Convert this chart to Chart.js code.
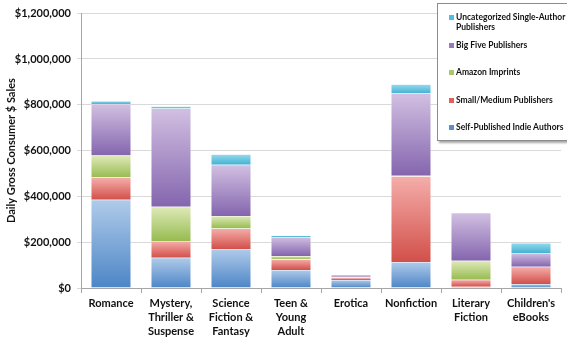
<!DOCTYPE html>
<html>
<head>
<meta charset="utf-8">
<script src="https://cdn.jsdelivr.net/npm/chart.js@4/dist/chart.umd.min.js"></script>
<style>
  html, body { margin: 0; padding: 0; background: #fff; }
  #wrap { position: relative; width: 567px; height: 341px; }
  #legenda {
    position: absolute; left: 437px; top: 3px; width: 135px; height: 136px;
    background: #fff; border: 1px solid #8c8c8c;
    box-shadow: 2px 2px 2px rgba(0,0,0,0.35);
    font-family: Lato, "Liberation Sans", sans-serif; font-weight: bold; font-size: 8.5px;
    color: #111;
  }
  .item { position: absolute; left: 11px; width: 124px; line-height: 9.5px; }
  .item span.m { position: absolute; left: 0; top: 2px; width: 5px; height: 5px; }
  .item span.t { display: block; margin-left: 7px; }
</style>
</head>
<body>
<div id="wrap">
  <canvas id="grafico" width="567" height="341"></canvas>
  <div id="legenda"></div>
</div>
<script>
const categorias = [
  "Romance",
  ["Mystery,", "Thriller &", "Suspense"],
  ["Science", "Fiction &", "Fantasy"],
  ["Teen &", "Young", "Adult"],
  "Erotica",
  "Nonfiction",
  ["Literary", "Fiction"],
  ["Children's", "eBooks"]
];

// valores em dólares por dia
const indie = [385000, 132000, 170000, 79000, 35000, 113000, 6000, 17000];
const pequenas = [97000, 73000, 90000, 46000, 10000, 375000, 30000, 76000];
const amazon = [96000, 150000, 54000, 15000, 2000, 2000, 83000, 0];
const bigFive = [225000, 429000, 224000, 83000, 7000, 359000, 209000, 60000];
const semCategoria = [13000, 9000, 46000, 6000, 5000, 41000, 0, 44000];

const yTicks = [0, 200000, 400000, 600000, 800000, 1000000, 1200000];

function preenchimento(claro, escuro) {
    return ctx => {
        const chart = ctx.chart;
        const y = chart.scales.y;
        if (!chart.chartArea || !y || ctx.type !== "data") return escuro;
        let base = 0;
        for (let d = 0; d < ctx.datasetIndex; d++) {
            base += chart.data.datasets[d].data[ctx.dataIndex];
        }
        const y0 = y.getPixelForValue(base);
        const y1 = y.getPixelForValue(base + ctx.raw);
        if (!isFinite(y0) || !isFinite(y1) || y0 === y1) return escuro;
        const g = chart.ctx.createLinearGradient(0, y1, 0, y0);
        g.addColorStop(0, claro);
        g.addColorStop(1, escuro);
        return g;
    };
}

const series = [
    { label: "Self-Published Indie Authors", data: indie, claro: "#b0cbea", escuro: "#4c85c6", cor: "#5b8fd0" },
    { label: "Small/Medium Publishers", data: pequenas, claro: "#f5aeab", escuro: "#d24f49", cor: "#e0615c" },
    { label: "Amazon Imprints", data: amazon, claro: "#dfeab8", escuro: "#97bb50", cor: "#a8c866" },
    { label: "Big Five Publishers", data: bigFive, claro: "#d2c0e2", escuro: "#8465ae", cor: "#9879bd" },
    { label: "Uncategorized Single-Author Publishers", data: semCategoria, claro: "#96dbee", escuro: "#43b1d3", cor: "#4fbde0" }
];

const fonte = { family: "Lato, 'Liberation Sans', sans-serif", weight: "bold", size: 11, lineHeight: 1.3 };

new Chart(document.getElementById("grafico"), {
    type: "bar",
    data: {
        labels: categorias,
        datasets: series.map(s => ({
            label: s.label,
            data: s.data,
            backgroundColor: preenchimento(s.claro, s.escuro),
            borderColor: "rgba(255,255,255,0.5)",
            borderWidth: 0.5,
            barPercentage: 0.667,
            categoryPercentage: 1
        }))
    },
    options: {
        responsive: false,
        animation: false,
        layout: { padding: { left: 0, right: 6, top: 11, bottom: 0 } },
        plugins: {
            legend: { display: false },
            tooltip: { enabled: false }
        },
        scales: {
            x: {
                stacked: true,
                afterFit: s => { s.height = 53; },
                grid: { offset: true, drawOnChartArea: false, tickLength: 5, color: "#a6a6a6" },
                border: { color: "#a6a6a6" },
                ticks: { color: "#111", font: fonte, padding: 3, maxRotation: 0, autoSkip: false }
            },
            y: {
                stacked: true,
                min: 0,
                max: 1200000,
                afterFit: s => { s.width = 81; },
                afterBuildTicks: s => { s.ticks = yTicks.map(v => ({ value: v })); },
                grid: { color: "#d9d9d9", tickLength: 4 },
                border: { color: "#a6a6a6" },
                ticks: {
                    color: "#111",
                    font: fonte,
                    padding: 6,
                    callback: v => "$" + Number(v).toLocaleString("en-US")
                },
                title: {
                    display: true,
                    text: "Daily Gross Consumer $ Sales",
                    color: "#111",
                    font: { family: fonte.family, weight: "bold", size: 11 },
                    padding: { top: 5, bottom: 0 }
                }
            }
        }
    }
});

// Legenda em HTML, na ordem inversa (como no original)
const legenda = document.getElementById("legenda");
series.slice().reverse().forEach((s, i) => {
    const item = document.createElement("div");
    item.className = "item";
    item.style.top = (9 + i * 27.5) + "px";
    item.innerHTML = '<span class="m" style="background:' + s.cor + '"></span><span class="t">' + s.label + "</span>";
    legenda.appendChild(item);
});
</script>
</body>
</html>
